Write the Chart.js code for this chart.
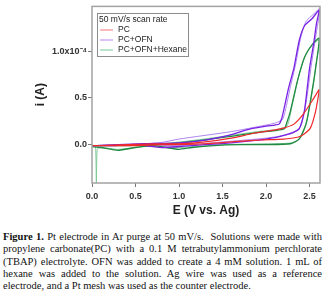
<!DOCTYPE html>
<html>
<head>
<meta charset="utf-8">
<script src="https://cdn.jsdelivr.net/npm/chart.js@4.4.0/dist/chart.umd.min.js"></script>
<style>
  body { margin: 0; background: #fff; width: 324px; height: 306px; overflow: hidden; position: relative; }
  #cv { position: absolute; left: 0; top: 0; }
  #caption { position: absolute; left: 3px; top: 231px; width: 319px; font-family: "Liberation Serif", "Times New Roman", serif; font-size: 10.5px; color: #111; }
  #caption div { height: 12.3px; line-height: 12.3px; text-align: justify; text-align-last: justify; white-space: nowrap; }
  #caption div.last { text-align-last: left; }
</style>
</head>
<body>
<canvas id="cv" width="324" height="222"></canvas>
<div id="caption">
  <div><b>Figure 1.</b> Pt electrode in Ar purge at 50 mV/s.&nbsp; Solutions were made with</div>
  <div>propylene carbonate(PC) with a 0.1 M tetrabutylammonium perchlorate</div>
  <div>(TBAP) electrolyte. OFN was added to create a 4 mM solution. 1 mL of</div>
  <div>hexane was added to the solution. Ag wire was used as a reference</div>
  <div class="last">electrode, and a Pt mesh was used as the counter electrode.</div>
</div>
<script>
// current in units of 1e-4 A, potential in V vs Ag
var seriesNames = ['PC', 'PC+OFN', 'PC+OFN+Hexane'];
var seriesColors = ['#f0282c', '#7a22e4', '#1f8a40'];
var legendColors = ['#f78c8e', '#c39af2', '#8fd0a8'];
var legendTitle = '50 mV/s scan rate';

var xTicks = [0, 0.5, 1.0, 1.5, 2.0, 2.5];
var yTicks = [0, 0.5, 1.0];
var yTickLabels = ['0.0', '0.5', '1.0x10\u207B\u2074'];

var pcE = [0.0, 0.3, 0.5, 0.8, 1.0, 1.3, 1.6, 1.94, 2.2, 2.36, 2.43, 2.51, 2.57, 2.61,
           2.61, 2.53, 2.43, 2.32, 2.21, 2.05, 1.85, 1.6, 1.3, 1.0, 0.7, 0.4, 0.1, 0.02];
var pcI = [-0.01, -0.01, -0.01, 0.0, 0.0, 0.01, 0.03, 0.05, 0.06, 0.08, 0.11, 0.18, 0.36, 0.57,
           0.59, 0.47, 0.33, 0.22, 0.18, 0.15, 0.12, 0.07, 0.03, 0.01, 0.01, 0.0, -0.01, -0.01];

var ofnE = [0.0, 0.2, 0.5, 0.8, 1.0, 1.3, 1.6, 1.82, 2.0, 2.13, 2.28, 2.38, 2.44, 2.47, 2.5, 2.55, 2.58, 2.61,
            2.53, 2.44, 2.38, 2.32, 2.26, 2.21, 2.18, 2.15, 2.1, 2.01, 1.82, 1.57, 1.3, 1.0, 0.6, 0.3, 0.05];
var ofnI = [-0.01, -0.01, 0.0, -0.03, -0.02, 0.0, 0.02, 0.04, 0.06, 0.08, 0.12, 0.17, 0.36, 0.58, 0.82, 1.1, 1.3, 1.44,
            1.35, 1.27, 1.11, 0.82, 0.61, 0.4, 0.28, 0.22, 0.21, 0.2, 0.17, 0.1, 0.05, 0.02, 0.01, 0.0, -0.01];

var ofn2E = [0.0, 0.5, 1.0, 1.5, 2.0, 2.3, 2.4, 2.46, 2.52, 2.57, 2.62,
             2.55, 2.46, 2.4, 2.34, 2.28, 2.23, 2.19, 2.1, 2.0, 1.6, 1.0, 0.77, 0.4, 0.0];
var ofn2I = [-0.01, 0.0, -0.01, 0.03, 0.07, 0.12, 0.2, 0.45, 0.85, 1.15, 1.46,
             1.4, 1.32, 1.15, 0.86, 0.62, 0.4, 0.27, 0.23, 0.21, 0.14, 0.06, 0.02, 0.0, -0.01];

var hexE = [0.0, 0.1, 0.3, 0.5, 0.7, 0.85, 1.0, 1.15, 1.4, 1.7, 2.0, 2.28, 2.38, 2.46, 2.51, 2.57, 2.61,
            2.53, 2.44, 2.36, 2.28, 2.24, 2.21, 2.1, 1.9, 1.6, 1.3, 1.0, 0.7, 0.4, 0.05];
var hexI = [-0.02, -0.03, -0.06, -0.03, -0.01, -0.03, -0.05, -0.03, -0.01, 0.0, 0.0, 0.01, 0.06, 0.22, 0.47, 0.82, 1.14,
            1.07, 0.93, 0.68, 0.36, 0.24, 0.17, 0.15, 0.13, 0.09, 0.05, 0.02, 0.0, -0.01, -0.01];

var hex2E = [0.0, 0.04, 0.05, 0.06, 0.1, 0.3, 0.6, 1.0, 1.5, 2.0, 2.3, 2.4, 2.48, 2.54, 2.58, 2.62,
             2.55, 2.46, 2.38, 2.3, 2.24, 2.1, 1.9, 1.6, 1.2, 0.8, 0.4, 0.0];
var hex2I = [0.0, -0.02, -0.45, -0.05, -0.03, -0.05, -0.02, -0.03, 0.0, 0.01, 0.02, 0.08, 0.3, 0.62, 0.9, 1.12,
             1.09, 0.97, 0.75, 0.42, 0.2, 0.16, 0.14, 0.1, 0.05, 0.01, 0.0, -0.01];

function pts(xs, ys) {
    var out = [];
    for (var i = 0; i < xs.length; i++) out.push({ x: xs[i], y: ys[i] });
    return out;
}

function line(label, xs, ys, color, width, order) {
    return {
        label: label,
        data: pts(xs, ys),
        borderColor: color,
        backgroundColor: color,
        borderWidth: width,
        pointRadius: 0,
        showLine: true,
        fill: false,
        tension: 0.2,
        order: order
    };
}

// frame around plot area + boxed legend
var framePlugin = {
    id: 'frame',
    afterDraw: function (chart) {
        var ctx = chart.ctx, a = chart.chartArea;
        ctx.save();
        ctx.strokeStyle = '#a3a3a3';
        ctx.lineWidth = 1.5;
        ctx.strokeRect(a.left, a.top, a.right - a.left, a.bottom - a.top);

        // legend
        var lx = 97, ly = 13, lw = 91, lh = 43;
        ctx.fillStyle = '#fff';
        ctx.fillRect(lx, ly, lw, lh);
        ctx.strokeStyle = '#8c8c8c';
        ctx.lineWidth = 1;
        ctx.strokeRect(lx + 0.5, ly + 0.5, lw, lh);
        ctx.font = '8.5px "Liberation Sans", Arial, sans-serif';
        ctx.textBaseline = 'middle';
        ctx.textAlign = 'left';
        ctx.fillStyle = '#222';
        ctx.fillText(legendTitle, 99, 20);
        for (var i = 0; i < seriesNames.length; i++) {
            var yy = 30 + i * 10;
            ctx.strokeStyle = legendColors[i];
            ctx.lineWidth = 1.2;
            ctx.beginPath();
            ctx.moveTo(100, yy);
            ctx.lineTo(113, yy);
            ctx.stroke();
            ctx.fillStyle = '#222';
            ctx.fillText(seriesNames[i], 118, yy);
        }
        ctx.restore();
    }
};

var tickFont = { family: '"Liberation Sans", Arial, sans-serif', size: 9, weight: 'bold' };
var titleFont = { family: '"Liberation Sans", Arial, sans-serif', size: 12, weight: 'bold' };

new Chart(document.getElementById('cv'), {
    type: 'scatter',
    data: {
        datasets: [
            line(seriesNames[1], ofnE, ofnI, seriesColors[1], 1.3, 1),
            line(seriesNames[1], ofn2E, ofn2I, '#ae84ef', 1, 3),
            line(seriesNames[2], hexE, hexI, seriesColors[2], 1.3, 2),
            line(seriesNames[2], hex2E, hex2I, '#7cc796', 1, 4),
            line(seriesNames[0], pcE, pcI, seriesColors[0], 1.2, 0)
        ]
    },
    options: {
        responsive: false,
        animation: false,
        layout: { padding: { top: 5, right: 4, left: 0, bottom: 0 } },
        plugins: { legend: { display: false }, tooltip: { enabled: false } },
        scales: {
            x: {
                type: 'linear',
                min: 0,
                max: 2.62,
                afterFit: function (s) { s.height = 39; },
                afterBuildTicks: function (s) { s.ticks = xTicks.map(function (v) { return { value: v }; }); },
                ticks: {
                    font: tickFont,
                    color: '#333',
                    padding: 4,
                    autoSkip: false,
                    maxRotation: 0,
                    callback: function (v) { return v.toFixed(1); }
                },
                grid: { drawOnChartArea: false, drawTicks: true, tickLength: 4, color: '#777' },
                border: { display: false },
                title: { display: true, text: 'E (V vs. Ag)', font: titleFont, color: '#222', padding: { top: 0, bottom: 4 } }
            },
            y: {
                type: 'linear',
                min: -0.41,
                max: 1.48,
                afterFit: function (s) { s.width = 92; },
                afterBuildTicks: function (s) { s.ticks = yTicks.map(function (v) { return { value: v }; }); },
                ticks: {
                    font: tickFont,
                    color: '#333',
                    padding: 1,
                    autoSkip: false,
                    callback: function (v) { return yTickLabels[yTicks.indexOf(v)]; }
                },
                grid: { drawOnChartArea: false, drawTicks: true, tickLength: 4, color: '#777' },
                border: { display: false },
                title: { display: true, text: 'i (A)', font: titleFont, color: '#222', padding: { top: 33, bottom: 0 } }
            }
        }
    },
    plugins: [framePlugin]
});
</script>
</body>
</html>
